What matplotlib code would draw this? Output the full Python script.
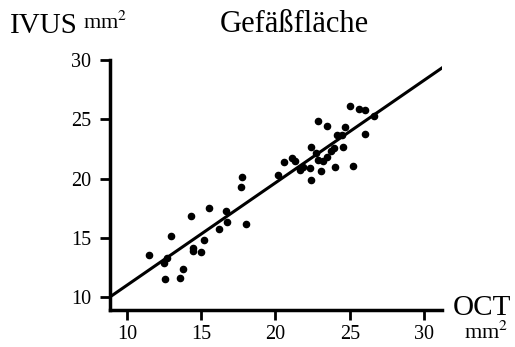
import matplotlib.pyplot as plt
import numpy as np

# OCT vs IVUS, Gefäßfläche (mm²)
oct_vals = [11.48, 12.51, 12.67, 12.53, 12.96, 13.59, 13.75, 14.33, 14.42, 14.44,
            15.0, 15.19, 15.5, 16.17, 16.7, 16.76, 17.77, 17.7, 17.99,
            20.15, 20.6, 21.11, 21.29, 21.63, 21.83, 22.34, 22.41, 22.39, 22.7,
            22.84, 22.88, 23.06, 23.18, 23.47, 23.47, 23.76, 23.94, 24.03, 24.16,
            24.46, 24.57, 24.7, 25.02, 25.24, 25.6, 26.05, 26.05, 26.63]
ivus_vals = [13.57, 12.84, 13.32, 11.55, 15.12, 11.63, 12.39, 16.81, 14.11, 13.91,
             13.8, 14.84, 17.49, 15.76, 17.28, 16.35, 20.15, 19.25, 16.13,
             20.3, 21.39, 21.73, 21.48, 20.72, 21.0, 20.91, 22.63, 19.9, 22.18,
             21.56, 24.83, 20.66, 21.5, 21.79, 24.46, 22.32, 22.6, 21.0, 23.67,
             23.67, 22.63, 24.37, 26.12, 21.05, 25.84, 25.78, 23.78, 25.3]
fit_slope = 0.865
fit_intercept = 2.34
x_ticks = [10, 15, 20, 25, 30]
y_ticks = [10, 15, 20, 25, 30]

plt.rcParams['font.family'] = ['Liberation Serif', 'DejaVu Serif']
plt.rcParams['mathtext.fontset'] = 'stix'

fig = plt.figure(figsize=(5.15, 3.47), dpi=100)
ax = fig.add_axes([0.2136, 0.1066, 0.6444, 0.7204])

ax.scatter(oct_vals, ivus_vals, s=20, color='black', zorder=3)
xl = np.array([8.86, 31.2])
ax.plot(xl, fit_slope * xl + fit_intercept, color='black', lw=2.2)

ax.set_xlim(8.86, 31.2)
ax.set_ylim(8.9, 30)
ax.set_xticks(x_ticks)
ax.set_yticks(y_ticks)
for s in ['top', 'right']:
    ax.spines[s].set_visible(False)
for s in ['left', 'bottom']:
    ax.spines[s].set_linewidth(2.5)
ax.spines['left'].set_bounds(8.9, 30)
ax.tick_params(direction='out', length=7.5, width=2, labelsize=14.5)
ax.tick_params(axis='y', pad=6)
ax.tick_params(axis='x', pad=3)

fig.text(0.019, 0.905, 'IVUS', fontsize=21, va='baseline')
fig.text(0.161, 0.918, 'mm$^2$', fontsize=16, va='baseline')
fig.text(0.572, 0.908, 'Gefäßfläche', fontsize=22, va='baseline', ha='center')
fig.text(0.880, 0.092, 'OCT', fontsize=21, va='baseline')
fig.text(0.900, 0.025, 'mm$^2$', fontsize=16, va='baseline')

fig.savefig('out.png', dpi=100)
